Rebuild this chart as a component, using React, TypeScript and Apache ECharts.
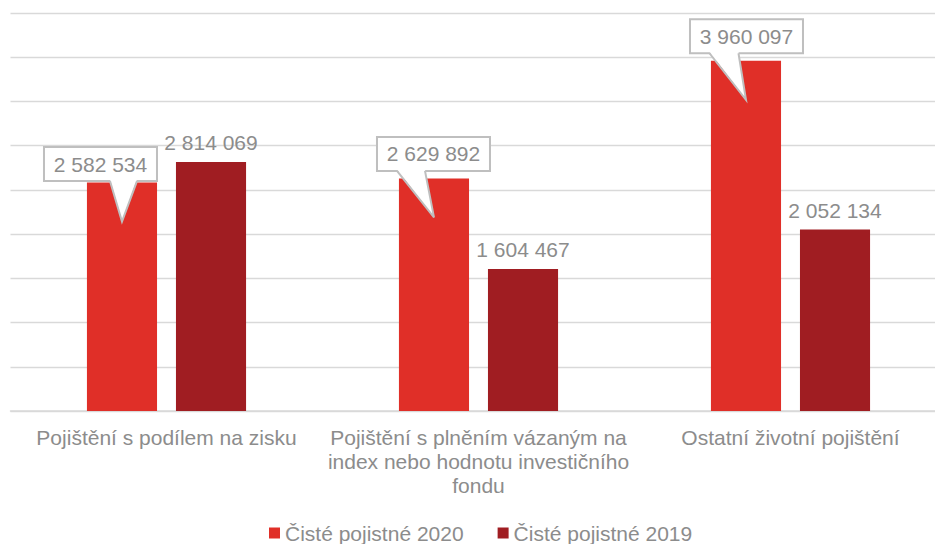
import React, { useEffect, useRef } from "react";
import * as echarts from "echarts";

const categories = [
  "Pojištění s podílem na zisku",
  "Pojištění s plněním vázaným na\nindex nebo hodnotu investičního\nfondu",
  "Ostatní životní pojištění",
];
const seriesNames = ["Čisté pojistné 2020", "Čisté pojistné 2019"];
const values2020 = [2582534, 2629892, 3960097];
const values2019 = [2814069, 1604467, 2052134];
const yTicks = { min: 0, max: 4500000, interval: 500000 };

// callout layout (box centre offset from bar top, tail base offsets from box centre)
const CALLOUT_LAYOUT = [
  { dx: -21.5, dy: -18.5, tl: 9.5, tr: 36.5 },
  { dx: -0.5, dy: -24.5, tl: -36.5, tr: -8.5 },
  { dx: 0.5, dy: -24.5, tl: -37, tr: -8 },
];
const BOX_W = 113;
const BOX_H = 34;
const TIP_DEPTH = 39;

const RED = "#E02F28";
const DARK = "#A01D22";
const GRAY_TEXT = "#8C8C8C";
const GRID = "#D9D9D9";
const BOX_BORDER = "#BFBFBF";
const FONT = "'Liberation Sans', Arial, sans-serif";
const CAT_GAP = 0.49;
const BAR_GAP = 0.27;

const fmt = (v: number) => String(v).replace(/\B(?=(\d{3})+(?!\d))/g, " ");

export default function App() {
  const ref = useRef<HTMLDivElement>(null);
  useEffect(() => {
    if (!ref.current) return;
    const chart = echarts.init(ref.current, null, { renderer: "svg" });
    chart.setOption({
      animation: false,
      grid: { left: 10.5, right: -11.5, top: 13, bottom: 133, outerBoundsMode: "none" },
      legend: {
        data: seriesNames,
        left: 269,
        top: 521,
        padding: 0,
        icon: "rect",
        itemWidth: 11,
        itemHeight: 11,
        itemGap: 34,
        textStyle: { color: GRAY_TEXT, fontSize: 21, fontFamily: FONT, lineHeight: 24 },
      },
      xAxis: {
        type: "category",
        data: categories,
        axisTick: { show: false },
        axisLine: { lineStyle: { color: GRID, width: 1.5 } },
        axisLabel: {
          interval: 0,
          color: GRAY_TEXT,
          fontSize: 21,
          fontFamily: FONT,
          lineHeight: 24,
          margin: 14,
          align: "center",
        },
      },
      yAxis: {
        type: "value",
        min: yTicks.min,
        max: yTicks.max,
        interval: yTicks.interval,
        axisLabel: { show: false },
        axisLine: { show: false },
        axisTick: { show: false },
        splitLine: { lineStyle: { color: GRID, width: 1.3 } },
      },
      series: [
        {
          name: seriesNames[0],
          type: "bar",
          data: values2020,
          barCategoryGap: CAT_GAP * 100 + "%",
          barGap: BAR_GAP * 100 + "%",
          itemStyle: { color: RED },
        },
        {
          name: seriesNames[1],
          type: "bar",
          data: values2019,
          barCategoryGap: CAT_GAP * 100 + "%",
          barGap: BAR_GAP * 100 + "%",
          itemStyle: { color: DARK },
          label: {
            show: true,
            position: "top",
            distance: 9,
            color: GRAY_TEXT,
            fontSize: 21,
            fontFamily: FONT,
            formatter: (p: any) => fmt(p.value),
          },
        },
        {
          type: "custom",
          name: "callouts",
          z: 10,
          data: values2020.map((v, i) => [i, v]),
          encode: { x: 0, y: 1 },
          renderItem: (params: any, api: any) => {
            const idx = api.value(0);
            const val = api.value(1);
            const pt = api.coord([idx, val]);
            const catW = api.size([1, 0])[0];
            const band = catW * (1 - CAT_GAP);
            const bw = band / (2 + BAR_GAP);
            const barX = pt[0] - band / 2 + bw / 2;
            const L = CALLOUT_LAYOUT[params.dataIndex];
            const cx = barX + L.dx;
            const cy = pt[1] + L.dy;
            const bottom = cy + BOX_H / 2;
            const tip = [barX, pt[1] + TIP_DEPTH];
            return {
              type: "group",
              children: [
                {
                  type: "rect",
                  shape: { x: cx - BOX_W / 2, y: cy - BOX_H / 2, width: BOX_W, height: BOX_H },
                  style: { fill: "#fff", stroke: BOX_BORDER, lineWidth: 2 },
                },
                {
                  type: "polygon",
                  shape: { points: [[cx + L.tl, bottom - 1.5], tip, [cx + L.tr, bottom - 1.5]] },
                  style: { fill: "#fff" },
                },
                {
                  type: "polyline",
                  shape: { points: [[cx + L.tl, bottom], tip, [cx + L.tr, bottom]] },
                  style: { fill: null, stroke: BOX_BORDER, lineWidth: 2 },
                },
                {
                  type: "text",
                  style: {
                    text: fmt(val),
                    x: cx,
                    y: cy,
                    align: "center",
                    verticalAlign: "middle",
                    fill: GRAY_TEXT,
                    fontSize: 21,
                    fontFamily: FONT,
                  },
                },
              ],
            };
          },
        },
      ],
    });
    return () => chart.dispose();
  }, []);
  return (
    <div
      ref={ref}
      style={{ position: "absolute", left: 0, top: 0, width: 935, height: 544 }}
    />
  );
}
